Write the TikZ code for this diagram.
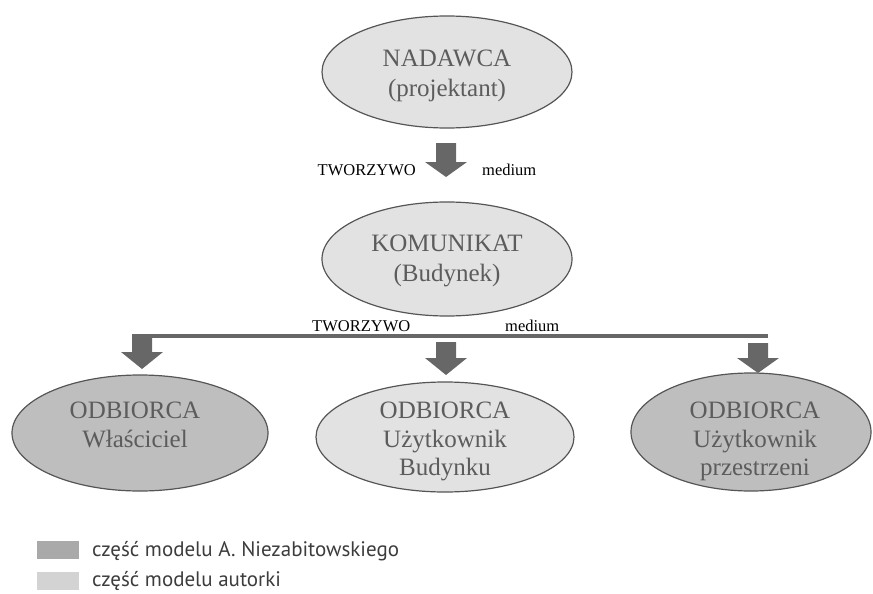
\documentclass[tikz,border=0pt]{standalone}
\usepackage{fontspec}
\setmainfont{Liberation Serif}
\newfontfamily\legendfont{PT Sans}
\usetikzlibrary{shapes.geometric}
\definecolor{edgegray}{HTML}{555555}
\definecolor{lightfill}{HTML}{E2E2E2}
\definecolor{darkfill}{HTML}{BEBEBE}
\definecolor{arrowgray}{HTML}{676767}
\definecolor{textgray}{HTML}{5C5C5C}
\definecolor{legdark}{HTML}{A9A9A9}
\definecolor{leglight}{HTML}{D3D3D3}
\definecolor{legtext}{HTML}{3C3C3C}
\tikzset{
  ell/.style={ellipse, draw=edgegray, line width=1.2pt, inner sep=0pt},
  elltext/.style={align=center, text=textgray, inner sep=0pt, anchor=north,
    font=\fontsize{25}{28.5}\selectfont},
  smalllab/.style={inner sep=0pt, anchor=base, font=\fontsize{16.5}{18}\selectfont},
  legtxt/.style={inner sep=0pt, anchor=base west, text=legtext, font=\legendfont\fontsize{21}{23}\selectfont},
  swatch/.style={inner sep=0pt, minimum width=42pt, minimum height=18pt, anchor=north west},
  blockarrow/.pic={
    \fill[arrowgray] (-10,0) -- (10,0) -- (10,\ahs) -- (21,\ahs) -- (0,\ahs+\ahh) -- (-21,\ahs) -- (-10,\ahs) -- cycle;
  }
}
\begin{document}
\begin{tikzpicture}[x=1pt,y=-1pt]
\useasboundingbox (0,0) rectangle (873,594);

% ellipses
\node[ell, fill=lightfill, minimum width=250pt, minimum height=112pt] (nad) at (447,72) {};
\node[ell, fill=lightfill, minimum width=250pt, minimum height=114pt] (kom) at (447,259) {};
\node[ell, fill=darkfill, minimum width=256pt, minimum height=116pt] (odb1) at (140,433) {};
\node[ell, fill=lightfill, minimum width=258pt, minimum height=110pt] (odb2) at (445,437) {};
\node[ell, fill=darkfill, minimum width=240pt, minimum height=118pt] (odb3) at (751,432) {};

% texts
\node[elltext, font=\fontsize{25}{30}\selectfont] (tnad) at (447,50) {NADAWCA\\(projektant)};
\node[elltext, font=\fontsize{25}{30}\selectfont] (tkom) at (447,235) {KOMUNIKAT\\(Budynek)};
\node[elltext] (t1) at (135,402) {ODBIORCA\\Właściciel};
\node[elltext] (t2) at (445,402) {ODBIORCA\\Użytkownik\\Budynku};
\node[elltext] (t3) at (755,402) {ODBIORCA\\Użytkownik\\przestrzeni};

% first arrow
\def\ahs{19}\def\ahh{15}
\pic at (446,143) {blockarrow};
\node[smalllab, anchor=base east] (tw1) at (416,175) {TWORZYWO};
\node[smalllab, anchor=base west] (md1) at (482,175) {medium};

% distribution line
\node[smalllab, anchor=base west] (tw2) at (312,331) {TWORZYWO};
\node[smalllab, anchor=base west] (md2) at (505,331) {medium};
\coordinate (lstart) at (132,336);
\coordinate (lend) at (768,336);
\draw[arrowgray, line width=3.5pt] (lstart) -- (lend);

\def\ahs{17}\def\ahh{17}
\pic at (142,335) {blockarrow};
\def\ahs{16}\def\ahh{17}
\pic at (446,342) {blockarrow};
\def\ahs{15}\def\ahh{15}
\pic at (758,343) {blockarrow};

% legend
\node[swatch, fill=legdark] (sw1) at (37,541) {};
\node[swatch, fill=leglight] (sw2) at (37,572) {};
\node[legtxt] (lg1) at (92,556) {część modelu A. Niezabitowskiego};
\node[legtxt] (lg2) at (92,586) {część modelu autorki};
\end{tikzpicture}
\end{document}
